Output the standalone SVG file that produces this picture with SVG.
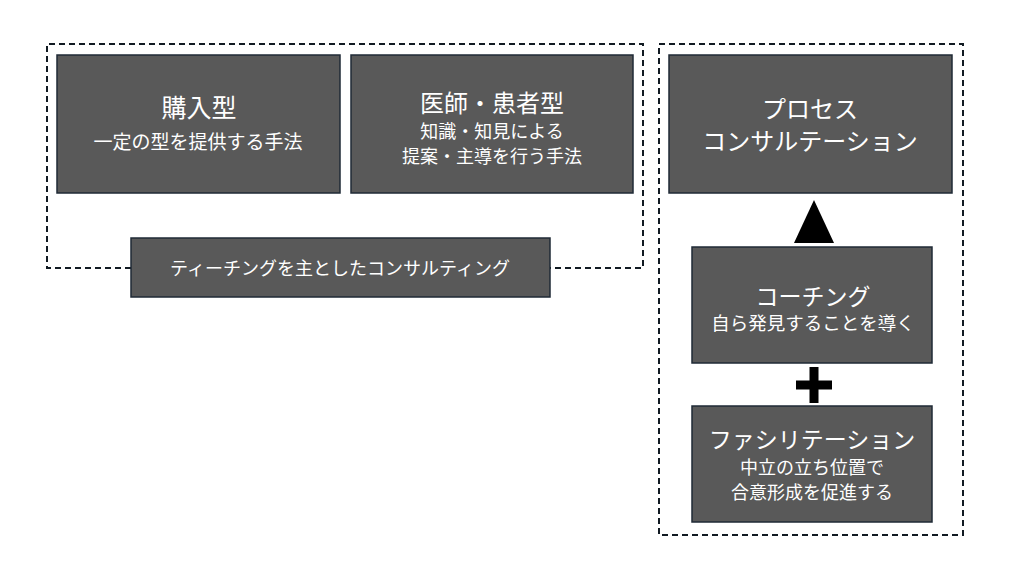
<svg xmlns="http://www.w3.org/2000/svg" width="1024" height="576" viewBox="0 0 1024 576">
<style>
.box{fill:#595959;stroke:#1f2a36;stroke-width:1.5}
.grp{fill:none;stroke:#111a22;stroke-width:2;stroke-dasharray:6 4}
text{font-family:"Noto Sans CJK JP","Noto Sans",sans-serif;fill:#fff;text-anchor:middle}
.h{font-size:24px}
.h2{font-size:23px}
.s{font-size:18px}
</style>
<rect width="1024" height="576" fill="#fff"/>
<g id="groups">
<path class="grp" d="M131,268 H47 V44 H643 V268 H550"/>
<rect class="grp" x="659" y="44" width="304" height="491"/>
</g>
<g id="node-kounyu">
<rect class="box" x="57" y="55" width="283" height="138"/>
<text class="h" x="199" y="117" style="font-size:25px">購入型</text>
<text class="s" x="198" y="149" style="font-size:19px">一定の型を提供する手法</text>
</g>
<g id="node-ishi">
<rect class="box" x="351" y="55" width="282" height="138"/>
<text class="h" x="492" y="112">医師・患者型</text>
<text class="s" x="492" y="138">知識・知見による</text>
<text class="s" x="492" y="163">提案・主導を行う手法</text>
</g>
<g id="node-teaching">
<rect class="box" x="131" y="238" width="419" height="59"/>
<text class="s" x="340" y="275">ティーチングを主としたコンサルティング</text>
</g>
<g id="node-process">
<rect class="box" x="669" y="55" width="283" height="138"/>
<text class="h" x="810" y="118">プロセス</text>
<text class="h" x="810" y="150">コンサルテーション</text>
</g>
<g id="node-coaching">
<rect class="box" x="692" y="247" width="240" height="116"/>
<text class="h2" x="813" y="305">コーチング</text>
<text class="s" x="813" y="330" style="font-size:18.5px">自ら発見することを導く</text>
</g>
<g id="node-facilitation">
<rect class="box" x="692" y="406" width="240" height="116"/>
<text class="h2" x="812" y="448">ファシリテーション</text>
<text class="s" x="812" y="474">中立の立ち位置で</text>
<text class="s" x="812" y="499">合意形成を促進する</text>
</g>
<g id="connectors">
<polygon points="814,200 834,243 794,243" fill="#000"/>
<path d="M796,385 H832 M814,367 V403" stroke="#000" stroke-width="9" fill="none"/>
</g>
</svg>
